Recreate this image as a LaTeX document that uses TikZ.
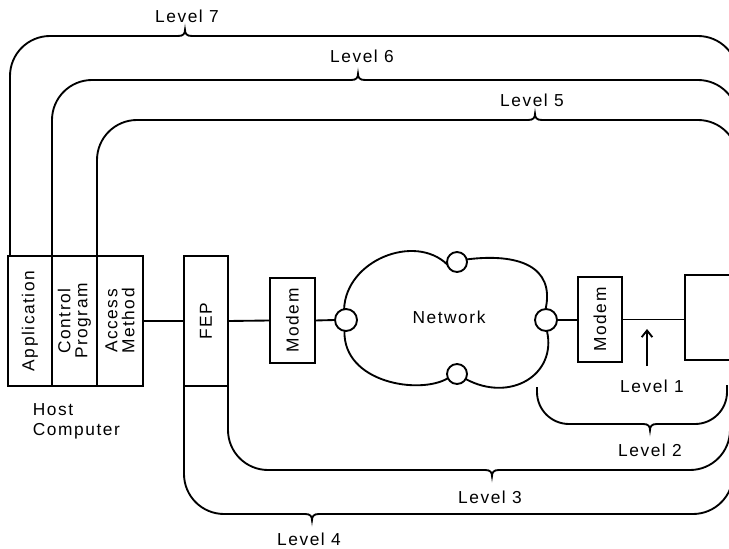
\documentclass[tikz,border=0pt]{standalone}
\usepackage{fontspec}
\setmainfont{Liberation Sans}[LetterSpace=9]
\usepackage{graphicx}
\usetikzlibrary{arrows.meta}
\newcommand\lblfont{\fontsize{13}{12.75}\selectfont}
\newcommand\bumpU[2]{\draw (#1-7,#2) .. controls (#1-2,#2) and (#1,#2-2) .. (#1,#2-6) .. controls (#1,#2-2) and (#1+2,#2) .. (#1+7,#2);}
\newcommand\bumpD[2]{\draw (#1-7,#2) .. controls (#1-2,#2) and (#1,#2+2) .. (#1,#2+6) .. controls (#1,#2+2) and (#1+2,#2) .. (#1+7,#2);}
\begin{document}
\begin{tikzpicture}[x=0.75pt,y=-0.75pt,line width=1.4pt,
  box/.style={draw,rectangle,inner sep=0pt,outer sep=0pt},
  lbl/.style={font=\lblfont,inner sep=0pt},
  vlbl/.style={lbl,rotate=90,align=center},
  port/.style={draw,circle,inner sep=0pt,outer sep=0pt},
  lvl/.style={rounded corners=30pt}]
\useasboundingbox (0,0) rectangle (729,549);
\clip (0,0) rectangle (729,549);

% host computer
\node[box,minimum width=33pt,minimum height=97.5pt] (app) at (30,321) {};
\node[box,minimum width=33.75pt,minimum height=97.5pt] (cp) at (74.5,321) {};
\node[box,minimum width=34.5pt,minimum height=97.5pt] (am) at (120,321) {};
\node[vlbl] (tapp) at (app) {Application};
\node[vlbl] (tcp) at (cp) {Control\\Program};
\node[vlbl] (tam) at (am) {Access\\Method};
\node[lbl,anchor=north west,align=left,font=\fontsize{13}{14.5}\selectfont] (host) at (32,403) {Host\\Computer};

% FEP and modems
\node[box,minimum width=33pt,minimum height=97.5pt] (fep) at (206,321) {};
\node[vlbl] (tfep) at (fep) {FEP};
\node[box,minimum width=33.75pt,minimum height=63.75pt] (m1) at (292.5,320.5) {};
\node[vlbl] (tm1) at (m1) {Modem};
\node[box,minimum width=33pt,minimum height=63.75pt] (m2) at (600,319.5) {};
\node[vlbl] (tm2) at (m2) {Modem};
\node[box,minimum width=60pt,minimum height=63.75pt] (rbox) at (725,317.5) {};

% network cloud
\node[port,minimum size=16.5pt] (cl) at (346,320) {};
\node[port,minimum size=15pt] (ct) at (457,262) {};
\node[port,minimum size=16.5pt] (cr) at (546,320) {};
\node[port,minimum size=15pt] (cb) at (457,374) {};
\draw (cl.100) .. controls (346,260) and (415,233) .. (ct.195);
\draw (ct.15) .. controls (518,253) and (555,266) .. (cr.92);
\draw (cr.275) .. controls (557,375) and (510,403) .. (cb.-30);
\draw (cb.205) .. controls (420,395) and (343,383) .. (cl.262);
\node[lbl] (net) at (449,317) {Network};

% connectors
\draw (am.east) -- (fep.west);
\draw (fep.east) -- (m1.west);
\draw (m1.east) -- (cl.west);
\draw (cr.east) -- (m2.west|-cr.east);
\draw (m2.east) -- (m2.east-|rbox.west);

% level 1 arrow
\node[lbl] (l1) at (652,386) {Level 1};
\coordinate (a1s) at (647,366);
\coordinate (a1e) at (647,329);
\draw[-{Straight Barb[length=5pt,width=8pt]}] (a1s) -- (a1e);

% upper levels
\draw[lvl] ([xshift=1.5pt]app.north west) -- (10,36) -- (178,36);
\bumpU{185}{36}
\draw[lvl] (192,36) -- (738,36) -- (738,560);
\node[lbl] (l7) at (187,16) {Level 7};

\draw[lvl] (app.north east) -- (52,80) -- (351,80);
\bumpU{358}{80}
\draw[lvl] (365,80) -- (738,80) -- (738,560);
\node[lbl] (l6) at (362,56) {Level 6};

\draw[lvl] (cp.north east) -- (97,120) -- (528,120);
\bumpU{535}{120}
\draw[lvl] (542,120) -- (738,120) -- (738,560);
\node[lbl] (l5) at (532,100) {Level 5};

% lower levels
\draw[rounded corners=24pt] (537,387) -- (537,424) -- (643,424);
\bumpD{650}{424}
\draw[rounded corners=24pt] (657,424) -- (727,424) -- (727,385);
\node[lbl] (l2) at (650,450) {Level 2};

\draw[lvl] (fep.south east) -- (228,470) -- (485,470);
\bumpD{492}{470}
\draw[lvl] (499,470) -- (730,470) -- (730,428);
\node[lbl] (l3) at (490,497) {Level 3};

\draw[lvl] (fep.south west) -- (184,514) -- (305,514);
\bumpD{312}{514}
\draw[lvl] (319,514) -- (733,514) -- (733,468);
\node[lbl] (l4) at (309,539) {Level 4};
\end{tikzpicture}
\end{document}
